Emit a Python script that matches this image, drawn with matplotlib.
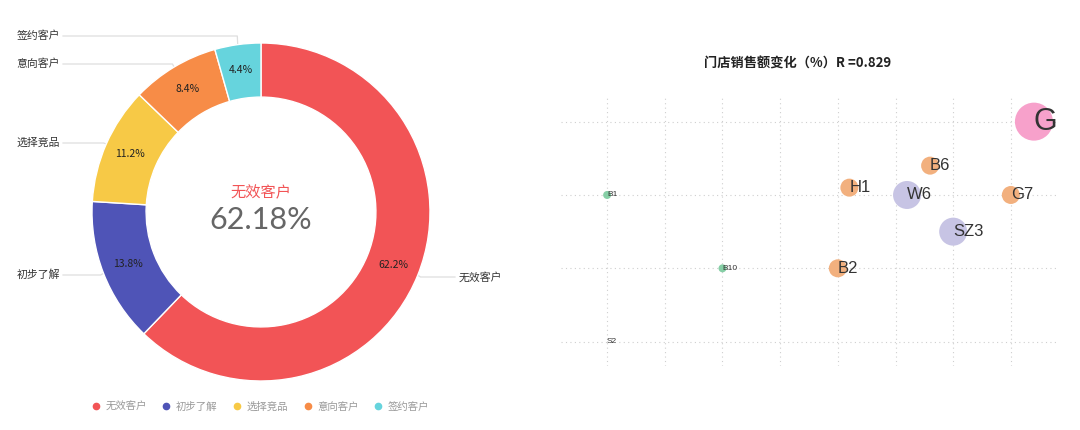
import numpy as np
import matplotlib
matplotlib.use("Agg")
import matplotlib.pyplot as plt
from matplotlib.lines import Line2D

plt.rcParams['font.family'] = ['Noto Sans CJK SC', 'DejaVu Sans']

# ---------- data: donut ----------
categories = ["无效客户", "初步了解", "选择竞品", "意向客户", "签约客户"]
shares = [62.18, 13.8, 11.2, 8.4, 4.4]
pie_colors = ["#f25456", "#4f54b7", "#f7c946", "#f78c47", "#66d4dd"]

# ---------- data: bubble chart ----------
stores = ["S2", "B1", "B10", "B2", "H1", "W6", "B6", "SZ3", "G7", "G"]
store_x = [0.0, 0.0, 2.0, 4.0, 4.2, 5.2, 5.6, 6.0, 7.0, 7.4]
store_y = [0.0, 2.0, 1.0, 1.0, 2.1, 2.0, 2.4, 1.5, 2.0, 3.0]
store_size = [0, 4, 4, 9, 9, 14, 9, 14, 9, 19]
store_group = ["A", "A", "A", "B", "B", "C", "B", "C", "B", "D"]
group_colors = {"A": "#86cfa6", "B": "#f2b07e", "C": "#c7c4e4", "D": "#f7a1cb"}
title_r = 0.829

fig = plt.figure(figsize=(10.8, 4.3), dpi=100)

# ---------- left: donut (axes in pixel units, y up) ----------
ax = fig.add_axes([0, 0, 0.5, 1])
cx, cy, R = 261, 218, 169
wedges, _, autotexts = ax.pie(
    shares, colors=pie_colors, startangle=90, counterclock=False,
    center=(cx, cy), radius=R, frame=True,
    wedgeprops=dict(width=R * 0.32, edgecolor="white", linewidth=1),
    autopct="%.1f%%", pctdistance=0.846,
    textprops=dict(fontsize=7.5, color="#222"))
ax.set_xlim(0, 540)
ax.set_ylim(0, 430)
ax.set_aspect("equal")
ax.axis("off")

ax.text(cx, cy + 19, categories[0], ha="center", va="center",
        fontsize=11, color=pie_colors[0])
ax.text(cx, cy - 8, f"{shares[0]:.2f}%", ha="center", va="center",
        fontsize=22, color="#666", family=["Lato", "DejaVu Sans"])

# outside labels with leader lines (label heights in pixels from the top)
label_top = [277, 275, 143, 64, 36]
for w, name, lt in zip(wedges, categories, label_top):
    ly = 430 - lt
    mid = np.deg2rad((w.theta1 + w.theta2) / 2)
    px, py = cx + R * np.cos(mid), cy + R * np.sin(mid)
    ex = cx + (R + 3) * np.cos(mid)
    if np.cos(mid) >= 0:
        tx, ha, lx = 459, "left", 455
    else:
        tx, ha, lx = 60, "right", 63
    ax.plot([px, ex, lx], [py, ly, ly], color="#dedede", lw=0.9, zorder=0)
    ax.text(tx, ly, name, ha=ha, va="center", fontsize=7.8, color="#333")

handles = [Line2D([], [], marker="o", ls="none", markersize=4.5,
                  markerfacecolor=c, markeredgecolor=c) for c in pie_colors]
fig.legend(handles, categories, loc="center", bbox_to_anchor=(261 / 1080, 23 / 430),
           ncol=5, frameon=False, fontsize=7.5, labelcolor="#999",
           handlelength=0.6, handletextpad=0.6, columnspacing=1.6)

# ---------- right: bubble chart ----------
bx = fig.add_axes([561 / 1080, 64.5 / 430, 496 / 1080, 268.8 / 430])
sizes_pt2 = [(2 * r * 0.72) ** 2 for r in store_size]
bx.scatter(store_x, store_y, s=sizes_pt2,
           c=[group_colors[g] for g in store_group], edgecolors="none", zorder=2)
for name, x, y, r in zip(stores, store_x, store_y, store_size):
    fs = 6 if r < 6 else (12 if r < 16 else 22)
    bx.text(x, y, name, ha="left", va="center", fontsize=fs, color="#333",
            family=["Liberation Sans", "DejaVu Sans"], zorder=3, clip_on=True)
bx.set_xlim(-0.8, 7.8)
bx.set_ylim(-0.325, 3.34)
bx.set_xticks(range(8))
bx.set_yticks(range(4))
bx.grid(True, ls=(0, (1, 3)), color="#cfcfcf", lw=0.8)
bx.tick_params(length=0, labelbottom=False, labelleft=False)
for s in bx.spines.values():
    s.set_visible(False)
bx.set_axisbelow(True)

fig.text(798 / 1080, 1 - 64 / 430, f"门店销售额变化（%）R ={title_r}",
         ha="center", va="center", fontsize=9.5, fontweight="bold", color="#222")

fig.savefig("out.png", dpi=100)
